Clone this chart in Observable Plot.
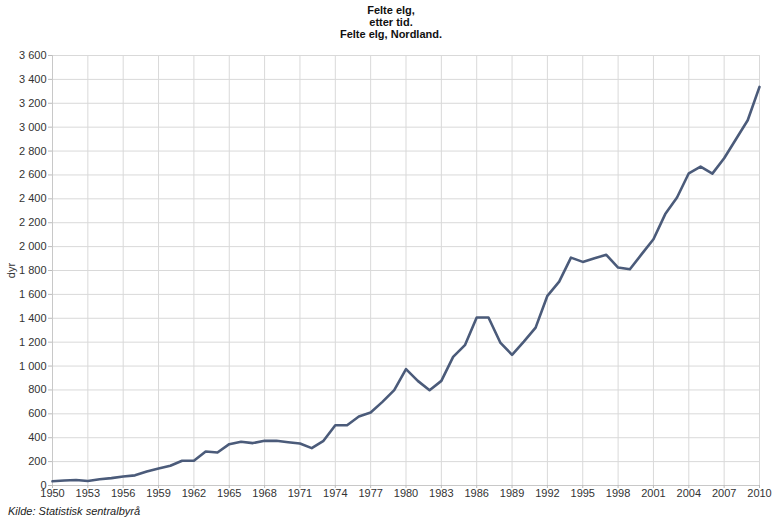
<!DOCTYPE html>
<html>
<head>
<meta charset="utf-8">
<script src="https://cdn.jsdelivr.net/npm/d3@7"></script>
<script src="https://cdn.jsdelivr.net/npm/@observablehq/plot@0.6"></script>
<style>
  body { margin: 0; background: #fff; font-family: "Liberation Sans", Arial, sans-serif; }
  #title { box-sizing: border-box; width: 773px; padding-left: 9px; padding-top: 4px; text-align: center; font-weight: bold; font-size: 11px; line-height: 12px; color: #111; }
  #chart { height: 465px; }
  #caption { font-style: italic; font-size: 11px; color: #222; padding-left: 8px; margin-top: 0px; }
</style>
</head>
<body>
<div id="title">Felte elg,<br>etter tid.<br>Felte elg, Nordland.</div>
<div id="chart"></div>
<div id="caption">Kilde: Statistisk sentralbyrå</div>
<script>
const years = d3.range(1950, 2011);
const felteElg = [
  35, 42, 46, 38, 52, 62, 75, 85, 117, 142,
  165, 207, 207, 285, 276, 346, 366, 355, 374, 374,
  362, 352, 313, 374, 505, 505, 578, 611, 700, 798,
  974, 876, 798, 876, 1077, 1175, 1406, 1406, 1197, 1094,
  1205, 1322, 1588, 1707, 1908, 1872, 1903, 1931, 1825, 1811,
  1937, 2062, 2272, 2411, 2614, 2670, 2611, 2740, 2899, 3058,
  3337
];
const xTicks = d3.range(1950, 2011, 3);
const yTicks = d3.range(0, 3601, 200);

const data = years.map((year, i) => ({year, value: felteElg[i]}));
const fmt = d => d3.format(",")(d).replace(/,/g, " ");

const chart = Plot.plot({
  width: 773,
  height: 465,
  marginTop: 15,
  marginLeft: 52,
  marginRight: 14,
  marginBottom: 20,
  style: {fontFamily: "'Liberation Sans', Arial, sans-serif", fontSize: "11px", color: "#333", background: "#fff"},
  x: {domain: [1950, 2010]},
  y: {domain: [0, 3600]},
  marks: [
    Plot.gridX(xTicks, {stroke: "#d9d9d9", strokeOpacity: 1}),
    Plot.gridY(yTicks, {stroke: "#d9d9d9", strokeOpacity: 1}),
    Plot.ruleX([1950], {stroke: "#c8c8c8"}),
    Plot.ruleY([0], {stroke: "#c8c8c8"}),
    Plot.axisX(xTicks, {tickFormat: d => String(d), tickSize: 3, tickPadding: 1, stroke: "#bbb", label: null}),
    Plot.axisY(yTicks, {tickFormat: fmt, tickSize: 4, tickPadding: 2, stroke: "#bbb", label: "dyr", labelAnchor: "center", labelOffset: 45, labelArrow: "none"}),
    Plot.line(data, {x: "year", y: "value", stroke: "#4b5b7a", strokeWidth: 2.6})
  ]
});
document.getElementById("chart").appendChild(chart);
</script>
</body>
</html>
